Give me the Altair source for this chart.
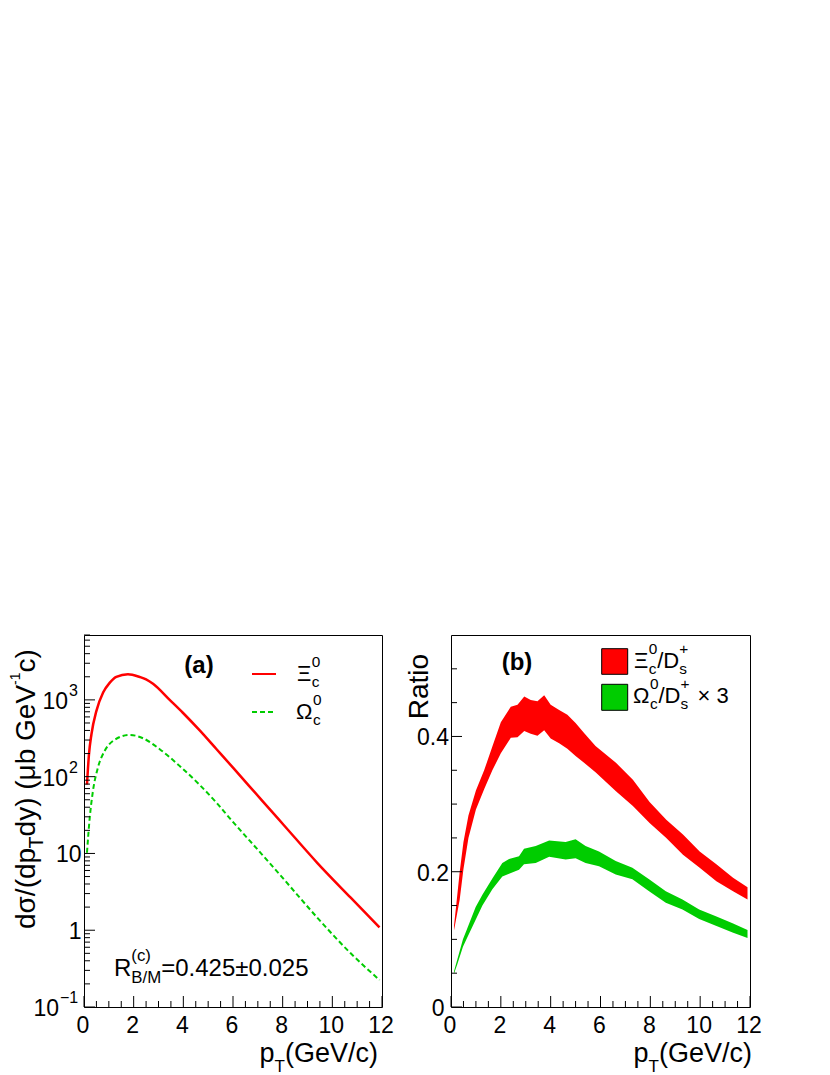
import altair as alt
import pandas as pd

# ---------------- data ----------------
# panel (a): cross sections vs pT
pt_xi = [0.12, 0.2, 0.3, 0.5, 0.77, 1.04, 1.3, 1.77, 2.24, 2.5, 2.78, 3.45, 3.98, 4.66, 5.33, 6.0, 7.18, 8.05,
         9.4, 10.74, 11.9]
xs_xi = [79, 195, 357, 720, 1245, 1680, 1995, 2160, 1990, 1850, 1620, 1000, 680, 400, 229, 131, 48.4, 23.3,
         7.5, 2.65, 1.09]
pt_om = [0.12, 0.23, 0.36, 0.56, 0.83, 1.17, 1.84, 2.38, 3.05, 3.85, 4.66, 5.33, 5.9, 7.18, 8.05, 9.4, 10.74, 11.9]
xs_om = [10.2, 29, 65, 131, 216, 292, 350, 316, 228, 138, 78, 46, 28, 9.6, 4.6, 1.45, 0.5, 0.225]

# panel (b): ratio bands (lower / upper edge)
pt_rxi = [0.12, 0.2, 0.35, 0.5, 0.7, 1.0, 1.33, 1.66, 2.0, 2.4, 2.67, 2.94, 3.2, 3.47, 3.74, 4.0, 4.34, 4.67,
          5.0, 5.34, 5.8, 6.62, 7.3, 7.97, 8.64, 9.31, 9.98, 10.65, 11.32, 11.9]
rxi_lo = [0.113, 0.129, 0.159, 0.204, 0.250, 0.292, 0.322, 0.350, 0.375, 0.398, 0.399, 0.408, 0.404, 0.401,
          0.409, 0.397, 0.390, 0.382, 0.371, 0.361, 0.347, 0.319, 0.297, 0.272, 0.250, 0.225, 0.206, 0.186,
          0.171, 0.159]
rxi_hi = [0.120, 0.147, 0.200, 0.244, 0.283, 0.320, 0.350, 0.385, 0.421, 0.444, 0.447, 0.459, 0.454, 0.452,
          0.461, 0.447, 0.439, 0.432, 0.420, 0.405, 0.386, 0.361, 0.336, 0.303, 0.277, 0.255, 0.230, 0.211,
          0.191, 0.177]
pt_rom = [0.12, 0.25, 0.48, 0.62, 0.99, 1.26, 1.66, 2.06, 2.33, 2.73, 2.93, 3.4, 3.94, 4.6, 5.0, 5.4, 5.94,
          6.61, 7.28, 7.95, 8.62, 9.29, 9.96, 10.63, 11.3, 11.9]
rom_lo = [0.049, 0.063, 0.089, 0.100, 0.129, 0.150, 0.174, 0.193, 0.197, 0.203, 0.211, 0.213, 0.222, 0.218,
          0.220, 0.213, 0.208, 0.196, 0.189, 0.171, 0.154, 0.144, 0.130, 0.120, 0.110, 0.102]
rom_hi = [0.053, 0.070, 0.100, 0.113, 0.148, 0.166, 0.190, 0.213, 0.219, 0.223, 0.234, 0.238, 0.246, 0.244,
          0.248, 0.238, 0.230, 0.216, 0.206, 0.189, 0.171, 0.159, 0.144, 0.134, 0.124, 0.114]

# axis ticks and labels
x_major = [0, 2, 4, 6, 8, 10, 12]
x_labels = ["0", "2", "4", "6", "8", "10", "12"]
x_minor = [0.5, 1, 1.5, 2.5, 3, 3.5, 4.5, 5, 5.5, 6.5, 7, 7.5, 8.5, 9, 9.5, 10.5, 11, 11.5]
ya_major = [0.1, 1, 10, 100, 1000]
ya_base = ["10", "1", "10", "10", "10"]
ya_exp = ["−1", "", "", "2", "3"]
ya_minor = [0.2, 0.3, 0.4, 0.5, 0.6, 0.7, 0.8, 0.9, 2, 3, 4, 5, 6, 7, 8, 9, 20, 30, 40, 50, 60, 70, 80, 90,
            200, 300, 400, 500, 600, 700, 800, 900, 2000, 3000, 4000, 5000, 6000, 7000]
yb_major = [0, 0.2, 0.4]
yb_labels = ["0", "0.2", "0.4"]
yb_minor = [0.05, 0.1, 0.15, 0.25, 0.3, 0.35, 0.45, 0.5]

# ---------------- styling ----------------
FONT = "Liberation Sans"
RED = "#ff0000"
GREEN = "#00cc00"
W, H = 298, 372
XS = alt.Scale(domain=[0, 12], nice=False, zero=False)
YA = alt.Scale(type="log", domain=[0.1, 7000], nice=False)
YB = alt.Scale(domain=[0, 0.55], nice=False, zero=False)

ONE = pd.DataFrame({"k": [0]})

WID = {' ': 278, '(': 333, ')': 333, '/': 278, '.': 278, '=': 584, '±': 549, '×': 584, '+': 584,
       '−': 584, '-': 333, 'B': 667, 'D': 722, 'G': 778, 'M': 833, 'R': 722, 'T': 611, 'V': 667,
       'a': 556, 'b': 556, 'c': 500, 'd': 556, 'e': 556, 'i': 222, 'o': 556, 'p': 556, 's': 500,
       't': 278, 'y': 500, 'σ': 600, 'μ': 576, 'Ξ': 667, 'Ω': 768}


def tw(s, size):
    return sum(WID.get(ch, 556) for ch in s) / 1000.0 * size


def txt(t, x, y, size, angle=0, bold=False, color="black", align="left"):
    kw = dict(text=t, fontSize=size, font=FONT, align=align, baseline="alphabetic",
              color=color, fontWeight="bold" if bold else "normal")
    if angle:
        kw["angle"] = angle
    return alt.Chart(ONE).mark_text(**kw).encode(x=alt.value(x), y=alt.value(y))


def rich(parts, x0, y0, size, angle=0, end=False):
    s2 = size * 0.7
    items, cur = [], 0.0
    for p in parts:
        k = p[0]
        if k == "n":
            items.append((p[1], size, 0.0, cur)); cur += tw(p[1], size)
        elif k == "gap":
            cur += p[1]
        elif k == "sub":
            off = p[2] if len(p) > 2 else 0.28 * size
            ss = p[3] if len(p) > 3 else s2
            items.append((p[1], ss, off, cur)); cur += tw(p[1], ss)
        elif k == "sup":
            off = p[2] if len(p) > 2 else -0.62 * size
            ss = p[3] if len(p) > 3 else s2
            items.append((p[1], ss, off, cur)); cur += tw(p[1], ss)
        elif k == "subsup":
            items.append((p[1], s2, 0.28 * size, cur))
            items.append((p[2], s2, -0.62 * size, cur))
            cur += max(tw(p[1], s2), tw(p[2], s2))
    shift = -cur if end else 0.0
    out = []
    for t, s, off, pos in items:
        if angle == 270:
            out.append(txt(t, x0 + off, y0 - (pos + shift), s, angle=270))
        else:
            out.append(txt(t, x0 + pos + shift, y0 + off, s))
    return out


def x_ticks():
    maj = alt.Chart(pd.DataFrame({"v": x_major})).mark_rule(color="black", strokeWidth=1).encode(
        x=alt.X("v:Q", scale=XS, axis=None), y=alt.value(H), y2=alt.value(H - 11))
    mnr = alt.Chart(pd.DataFrame({"v": x_minor})).mark_rule(color="black", strokeWidth=1).encode(
        x=alt.X("v:Q", scale=XS, axis=None), y=alt.value(H), y2=alt.value(H - 6))
    lab = alt.Chart(pd.DataFrame({"v": x_major, "t": x_labels})).mark_text(
        fontSize=23, font=FONT, align="center", baseline="alphabetic", color="black", dx=-1).encode(
        x=alt.X("v:Q", scale=XS, axis=None), y=alt.value(398), text="t:N")
    return [maj, mnr, lab]


def y_ticks(major, minor, scale):
    maj = alt.Chart(pd.DataFrame({"v": major})).mark_rule(color="black", strokeWidth=1).encode(
        y=alt.Y("v:Q", scale=scale, axis=None), x=alt.value(0), x2=alt.value(11))
    mnr = alt.Chart(pd.DataFrame({"v": minor})).mark_rule(color="black", strokeWidth=1).encode(
        y=alt.Y("v:Q", scale=scale, axis=None), x=alt.value(0), x2=alt.value(6))
    return [maj, mnr]


XTITLE = [("n", "p"), ("sub", "T", 10, 17), ("n", "(GeV/c)")]

# ---------------- panel (a) ----------------
df_xi = pd.DataFrame({"pt": pt_xi, "xs": xs_xi})
df_om = pd.DataFrame({"pt": pt_om, "xs": xs_om})

line_xi = alt.Chart(df_xi).mark_line(color=RED, strokeWidth=2.5, interpolate="monotone").encode(
    x=alt.X("pt:Q", scale=XS, axis=None), y=alt.Y("xs:Q", scale=YA, axis=None))
line_om = alt.Chart(df_om).mark_line(color=GREEN, strokeWidth=2, strokeDash=[5, 3],
                                     interpolate="monotone").encode(
    x=alt.X("pt:Q", scale=XS, axis=None), y=alt.Y("xs:Q", scale=YA, axis=None))

ya_labels = []
for v, b, e in zip(ya_major, ya_base, ya_exp):
    d = pd.DataFrame({"v": [v], "t": [b]})
    if e == "":
        ya_labels.append(alt.Chart(d).mark_text(fontSize=23, font=FONT, align="right", baseline="alphabetic",
                                                dy=9, color="black").encode(
            y=alt.Y("v:Q", scale=YA, axis=None), x=alt.value(-2.5), text="t:N"))
    else:
        rx = -25 if e.startswith("−") else -16
        ya_labels.append(alt.Chart(d).mark_text(fontSize=23, font=FONT, align="right", baseline="alphabetic",
                                                dy=9, color="black").encode(
            y=alt.Y("v:Q", scale=YA, axis=None), x=alt.value(rx), text="t:N"))
        de = pd.DataFrame({"v": [v], "t": [e]})
        ya_labels.append(alt.Chart(de).mark_text(fontSize=16, font=FONT, align="left", baseline="alphabetic",
                                                 dy=-4, color="black").encode(
            y=alt.Y("v:Q", scale=YA, axis=None), x=alt.value(rx + 1), text="t:N"))

layers_a = [line_om, line_xi] + x_ticks() + y_ticks(ya_major, ya_minor, YA) + ya_labels
layers_a += rich([("n", "dσ/(dp"), ("sub", "T"), ("n", "dy) (μb GeV"), ("sup", "-1", -15.5, 14),
                  ("n", "c)")], -49, 294, 28, angle=270)
layers_a += rich(XTITLE, 294, 427, 27, end=True)
layers_a.append(txt("(a)", 115, 37.5, 24, bold=True, align="center"))
layers_a.append(alt.Chart(ONE).mark_rule(color=RED, strokeWidth=2).encode(
    x=alt.value(168), x2=alt.value(192), y=alt.value(39)))
layers_a.append(alt.Chart(ONE).mark_rule(color=GREEN, strokeWidth=2, strokeDash=[5, 3]).encode(
    x=alt.value(168), x2=alt.value(192), y=alt.value(77)))
layers_a += rich([("n", "Ξ"), ("subsup", "c", "0")], 213, 46, 22)
layers_a += rich([("n", "Ω"), ("subsup", "c", "0")], 212, 84, 22)
layers_a += rich([("n", "R"), ("subsup", "B/M", "(c)"), ("n", "=0.425±0.025")], 30, 341, 24)

panel_a = alt.layer(*layers_a).properties(width=W, height=H)

# ---------------- panel (b) ----------------
df_rxi = pd.DataFrame({"pt": pt_rxi, "lo": rxi_lo, "hi": rxi_hi})
df_rom = pd.DataFrame({"pt": pt_rom, "lo": rom_lo, "hi": rom_hi})

band_xi = alt.Chart(df_rxi).mark_area(color=RED, opacity=1).encode(
    x=alt.X("pt:Q", scale=XS, axis=None), y=alt.Y("lo:Q", scale=YB, axis=None), y2="hi:Q")
band_om = alt.Chart(df_rom).mark_area(color=GREEN, opacity=1).encode(
    x=alt.X("pt:Q", scale=XS, axis=None), y=alt.Y("lo:Q", scale=YB, axis=None), y2="hi:Q")

yb_lab0 = alt.Chart(pd.DataFrame({"v": yb_major[:1], "t": yb_labels[:1]})).mark_text(
    fontSize=23, font=FONT, align="right", baseline="alphabetic", dy=9, color="black").encode(
    y=alt.Y("v:Q", scale=YB, axis=None), x=alt.value(-6.5), text="t:N")
yb_lab = alt.Chart(pd.DataFrame({"v": yb_major[1:], "t": yb_labels[1:]})).mark_text(
    fontSize=23, font=FONT, align="right", baseline="alphabetic", dy=9, color="black").encode(
    y=alt.Y("v:Q", scale=YB, axis=None), x=alt.value(-2), text="t:N")

layers_b = [band_xi, band_om] + x_ticks() + y_ticks(yb_major, yb_minor, YB) + [yb_lab0, yb_lab]
layers_b.append(txt("Ratio", -22.7, 84.3, 28, angle=270))
layers_b += rich(XTITLE, 301, 427, 27, end=True)
layers_b.append(txt("(b)", 66, 34.5, 24, bold=True, align="center"))
layers_b.append(alt.Chart(ONE).mark_rect(fill=RED, stroke="black", strokeWidth=1).encode(
    x=alt.value(150.7), x2=alt.value(176.7), y=alt.value(13.7), y2=alt.value(39.3)))
layers_b.append(alt.Chart(ONE).mark_rect(fill=GREEN, stroke="black", strokeWidth=1).encode(
    x=alt.value(150.7), x2=alt.value(176.7), y=alt.value(49.3), y2=alt.value(75.3)))
layers_b += rich([("n", "Ξ"), ("subsup", "c", "0"), ("n", "/D"), ("subsup", "s", "+")], 183, 32.7, 22)
layers_b += rich([("n", "Ω"), ("subsup", "c", "0"), ("n", "/D"), ("subsup", "s", "+"), ("gap", 8),
                  ("n", "× 3")], 182, 67.7, 22)

panel_b = alt.layer(*layers_b).properties(width=W + 1, height=H)

chart = alt.hconcat(panel_a, panel_b, spacing=69, bounds="flush").properties(
    padding={"left": 0, "top": 626, "right": 5, "bottom": 0},
    background="white",
).configure_view(stroke="black", strokeWidth=1)

chart.save("out.html", embed_options={"renderer": "svg", "actions": False})
